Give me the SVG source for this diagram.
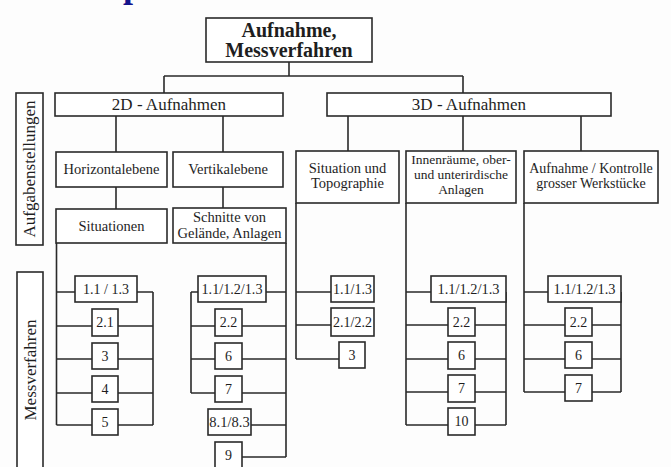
<svg xmlns="http://www.w3.org/2000/svg" width="671" height="467" viewBox="0 0 671 467">
<style>
.b{fill:#fff;stroke:#2a2a2a;stroke-width:1.6}
.l{fill:none;stroke:#2a2a2a;stroke-width:1.6}
text{font-family:"Liberation Serif","Times New Roman",serif;fill:#1e1e1e;text-anchor:middle}
.t{font-size:14.5px}
.s{font-size:13.5px}
.n{font-size:14px}
.n2{font-size:14px}
</style>
<rect width="671" height="467" fill="#fdfdfd"/>
<text x="133" y="-3" style="font-size:36px;font-weight:bold;fill:#14148c">p</text>
<g id="connectors" class="l">
<path d="M289 62V76M164 76H463M164 76V93M463 76V93"/>
<path d="M116 116V152M223 116V152M116 187V209M223 187V208"/>
<path d="M348 116V151M463 116V151M581 116V151"/>
<path d="M56.5 243V425M153 292V425M56.5 292H153M56.5 326H153M56.5 359H153M56.5 393H153M56.5 425H153"/>
<path d="M286 243V457M191 292V393M191 292H286M191 326H286M191 359H286M191 393H286M251 425H286M242 457H286"/>
<path d="M296 203V359M296 292H331M296 325H331M296 359H339"/>
<path d="M406 203V425M506 292V425M406 292H506M406 325H506M406 359H506M406 392H506M406 425H506"/>
<path d="M524 203V392M621 292V392M524 292H621M524 325H621M524 359H621M524 392H621"/>
</g>
<g id="side1"><rect class="b" x="16" y="93" width="27" height="152"/><text class="t" transform="translate(35 169) rotate(-90)" style="font-size:17px">Aufgabenstellungen</text></g>
<g id="side2"><rect class="b" x="17" y="272" width="26" height="205"/><text class="t" transform="translate(36 370) rotate(-90)" style="font-size:17px">Messverfahren</text></g>
<g id="root"><rect class="b" x="206" y="18" width="166" height="44"/><text x="289" y="37" style="font-size:20px;font-weight:bold">Aufnahme,</text><text x="289" y="57" style="font-size:20px;font-weight:bold">Messverfahren</text></g>
<g id="n2d"><rect class="b" x="55" y="93" width="228" height="23"/><text x="169" y="110" style="font-size:17px">2D - Aufnahmen</text></g>
<g id="n3d"><rect class="b" x="327" y="93" width="284" height="23"/><text x="469" y="110" style="font-size:17px">3D - Aufnahmen</text></g>
<g id="horiz"><rect class="b" x="56" y="152" width="111" height="35"/><text class="t" x="111.5" y="174">Horizontalebene</text></g>
<g id="vert"><rect class="b" x="173" y="152" width="110" height="35"/><text class="t" x="228" y="174">Vertikalebene</text></g>
<g id="situationen"><rect class="b" x="56" y="209" width="111" height="34"/><text class="t" x="111.5" y="231">Situationen</text></g>
<g id="schnitte"><rect class="b" x="173" y="208" width="113" height="35"/><text class="t" x="229.5" y="222">Schnitte von</text><text class="t" x="229.5" y="238">Gelände, Anlagen</text></g>
<g id="sitopo"><rect class="b" x="296" y="151" width="103" height="52"/><text class="t" x="347.5" y="173">Situation und</text><text class="t" x="347.5" y="188">Topographie</text></g>
<g id="innen"><rect class="b" x="406" y="151" width="110" height="52"/><text class="s" x="461" y="164">Innenräume, ober-</text><text class="s" x="461" y="179">und unterirdische</text><text class="s" x="461" y="194">Anlagen</text></g>
<g id="kontrolle"><rect class="b" x="524" y="151" width="134" height="52"/><text class="s" x="591" y="173" style="font-size:14px">Aufnahme / Kontrolle</text><text class="s" x="591" y="188" style="font-size:14px">grosser Werkstücke</text></g>
<g id="c1a"><rect class="b" x="75" y="276" width="62" height="26"/><text class="n" x="106" y="294">1.1 / 1.3</text></g>
<g id="c1b"><rect class="b" x="92" y="309" width="26" height="27"/><text class="n" x="105" y="327">2.1</text></g>
<g id="c1c"><rect class="b" x="92" y="343" width="26" height="26"/><text class="n" x="105" y="361">3</text></g>
<g id="c1d"><rect class="b" x="92" y="376" width="26" height="26"/><text class="n" x="105" y="394">4</text></g>
<g id="c1e"><rect class="b" x="92" y="409" width="26" height="26"/><text class="n" x="105" y="427">5</text></g>
<g id="c2a"><rect class="b" x="198" y="276" width="68" height="26"/><text class="n2" x="232" y="294" textLength="61" lengthAdjust="spacingAndGlyphs">1.1/1.2/1.3</text></g>
<g id="c2b"><rect class="b" x="215" y="309" width="27" height="27"/><text class="n" x="228.5" y="327">2.2</text></g>
<g id="c2c"><rect class="b" x="215" y="343" width="27" height="26"/><text class="n" x="228.5" y="361">6</text></g>
<g id="c2d"><rect class="b" x="215" y="376" width="27" height="26"/><text class="n" x="228.5" y="394">7</text></g>
<g id="c2e"><rect class="b" x="208" y="409" width="43" height="26"/><text class="n" x="229.5" y="427" style="font-size:14.5px">8.1/8.3</text></g>
<g id="c2f"><rect class="b" x="215" y="442" width="27" height="30"/><text class="n" x="228.5" y="460">9</text></g>
<g id="c3a"><rect class="b" x="331" y="276" width="43" height="26"/><text class="n" x="352.5" y="294">1.1/1.3</text></g>
<g id="c3b"><rect class="b" x="331" y="308" width="43" height="28"/><text class="n" x="352.5" y="327">2.1/2.2</text></g>
<g id="c3c"><rect class="b" x="339" y="342" width="26" height="26"/><text class="n" x="352" y="360">3</text></g>
<g id="c4a"><rect class="b" x="431" y="276" width="75" height="26"/><text class="n2" x="468.5" y="294" textLength="62" lengthAdjust="spacingAndGlyphs">1.1/1.2/1.3</text></g>
<g id="c4b"><rect class="b" x="448" y="308" width="27" height="28"/><text class="n" x="461.5" y="327">2.2</text></g>
<g id="c4c"><rect class="b" x="448" y="342" width="27" height="27"/><text class="n" x="461.5" y="360">6</text></g>
<g id="c4d"><rect class="b" x="448" y="375" width="27" height="27"/><text class="n" x="461.5" y="393">7</text></g>
<g id="c4e"><rect class="b" x="448" y="408" width="27" height="27"/><text class="n" x="461.5" y="426">10</text></g>
<g id="c5a"><rect class="b" x="548" y="276" width="73" height="26"/><text class="n2" x="584.5" y="294" textLength="62" lengthAdjust="spacingAndGlyphs">1.1/1.2/1.3</text></g>
<g id="c5b"><rect class="b" x="565" y="308" width="27" height="28"/><text class="n" x="578.5" y="327">2.2</text></g>
<g id="c5c"><rect class="b" x="565" y="342" width="27" height="26"/><text class="n" x="578.5" y="360">6</text></g>
<g id="c5d"><rect class="b" x="565" y="375" width="27" height="26"/><text class="n" x="578.5" y="393">7</text></g>
</svg>
